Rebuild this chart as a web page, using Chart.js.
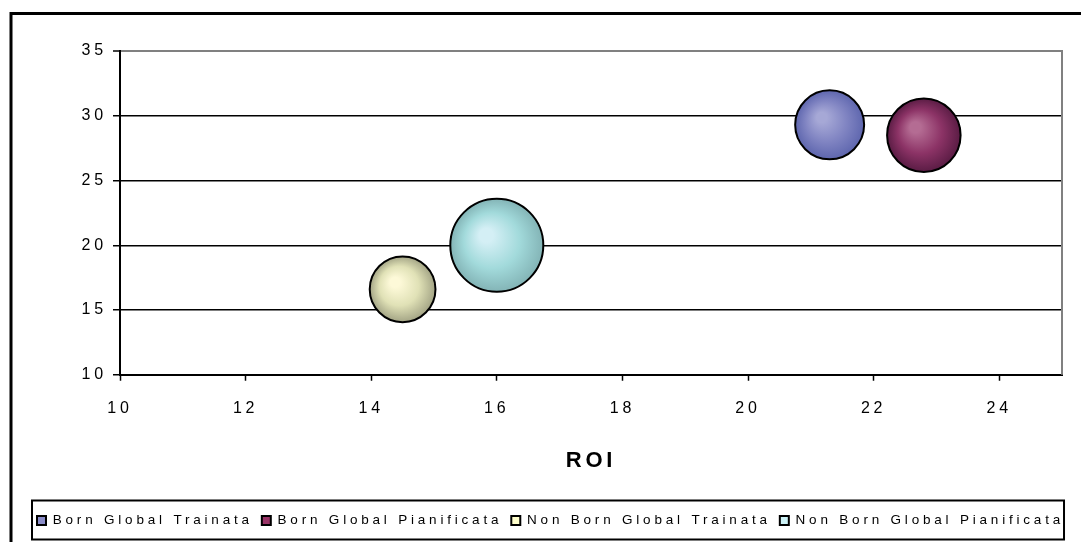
<!DOCTYPE html>
<html>
<head>
<meta charset="utf-8">
<script src="https://cdn.jsdelivr.net/npm/chart.js@4"></script>
<style>
  html, body { margin: 0; padding: 0; background: #fff; }
</style>
</head>
<body>
<canvas id="bubbleChart" width="1081" height="542"></canvas>
<script>
// data
const seriesNames = ['Born Global Trainata', 'Born Global Pianificata', 'Non Born Global Trainata', 'Non Born Global Pianificata'];
const roiValues = [21.3, 22.8, 14.5, 16.0];
const yValues = [29.3, 28.5, 16.6, 20.0];
const bubbleSizes = [11, 12.5, 10, 20];
const xRange = [10, 25, 2];   // min, max, step
const yRange = [10, 35, 5];

// flat colour for the legend, then highlight / mid / edge for the shaded ball
const legendColors = ['#8a8cc8', '#993366', '#ffffcc', '#ccf2f6'];
const ballColors = [
    ['#a6a8d6', '#8084c2', '#5e66ae'],
    ['#b46c93', '#8c3366', '#5a1c44'],
    ['#fdf9d8', '#e0e1b6', '#a3a485'],
    ['#d4eff5', '#a2dadb', '#83b4b6']
];

const maxRadius = 46.5;
const maxSize = Math.max(...bubbleSizes);

function shaded(i) {
    return (c) => {
        const cols = ballColors[i];
        if (c.type !== 'data' || !c.chart.scales.x || !c.raw) return cols[1];
        const raw = c.raw;
        const cx = c.chart.scales.x.getPixelForValue(raw.x);
        const cy = c.chart.scales.y.getPixelForValue(raw.y);
        const r = raw.r;
        if (!isFinite(cx) || !isFinite(cy) || !isFinite(r)) return cols[1];
        const g = c.chart.ctx.createRadialGradient(cx - r * 0.27, cy - r * 0.25, 0, cx, cy, r);
        g.addColorStop(0, cols[0]);
        g.addColorStop(0.15, cols[0]);
        g.addColorStop(0.6, cols[1]);
        g.addColorStop(1, cols[2]);
        return g;
    };
}

const datasets = seriesNames.map((name, i) => ({
    label: name,
    data: [{x: roiValues[i], y: yValues[i], r: maxRadius * Math.sqrt(bubbleSizes[i] / maxSize)}],
    backgroundColor: shaded(i),
    borderColor: '#000',
    borderWidth: 2,
    hoverRadius: 0
}));

const LETTER = '3.8px';

const decor = {
    id: 'decor',
    beforeLayout(chart) { chart.ctx.letterSpacing = LETTER; },
    beforeDraw(chart) {
        const ctx = chart.ctx;
        ctx.letterSpacing = LETTER;
        ctx.save();
        ctx.strokeStyle = '#000';
        ctx.lineWidth = 3;
        ctx.strokeRect(11, 13.5, 1200, 800);
        ctx.restore();
    },
    beforeDatasetsDraw(chart) {
        const {ctx, chartArea} = chart;
        ctx.save();
        ctx.strokeStyle = '#808080';
        ctx.lineWidth = 2;
        ctx.beginPath();
        ctx.moveTo(chartArea.right, chartArea.top - 1);
        ctx.lineTo(chartArea.right, chartArea.bottom);
        ctx.stroke();
        ctx.restore();
    },
    afterDraw(chart) {
        const lg = chart.legend;
        if (!lg || !lg.legendHitBoxes.length) return;
        const boxes = lg.legendHitBoxes;
        const left = Math.min(...boxes.map(b => b.left)) - 5;
        const right = Math.max(...boxes.map(b => b.left + b.width));
        const mid = boxes[0].top + boxes[0].height / 2;
        const ctx = chart.ctx;
        ctx.save();
        ctx.strokeStyle = '#000';
        ctx.lineWidth = 2;
        ctx.strokeRect(left, mid - 20, right - left, 39);
        ctx.restore();
    }
};

Chart.defaults.font.family = '"Liberation Sans", Arial, sans-serif';
Chart.defaults.color = '#000';

const ctx = document.getElementById('bubbleChart').getContext('2d');
const chart = new Chart(ctx, {
    type: 'bubble',
    data: { datasets: datasets },
    plugins: [decor],
    options: {
        responsive: false,
        animation: false,
        layout: { autoPadding: false, padding: { left: 28, right: 0, top: 51, bottom: 4.75 } },
        scales: {
            x: {
                min: xRange[0],
                max: xRange[1],
                ticks: { stepSize: xRange[2], includeBounds: false, padding: 18, font: { size: 16 } },
                grid: { drawOnChartArea: false, drawTicks: true, tickLength: 6, tickColor: '#000', tickWidth: 1.5 },
                border: { color: '#000', width: 2 },
                title: { display: true, text: 'ROI', font: { size: 22, weight: 'bold' }, padding: { top: 0, bottom: 31 } },
                afterFit: s => { s.height = 130; s.paddingLeft = 0; s.paddingRight = 19; }
            },
            y: {
                min: yRange[0],
                max: yRange[1],
                ticks: { stepSize: yRange[2], padding: 6, font: { size: 16 } },
                grid: {
                    color: c => c.tick && c.tick.value === yRange[1] ? '#808080' : '#000',
                    lineWidth: c => c.tick && c.tick.value === yRange[1] ? 2 : 1.5,
                    tickLength: 7,
                    tickColor: '#000',
                    tickWidth: 1.5
                },
                border: { color: '#000', width: 2 },
                afterFit: s => { s.width = 92; s.paddingTop = 0; s.paddingBottom = 0; }
            }
        },
        plugins: {
            tooltip: { enabled: false },
            legend: {
                position: 'bottom',
                align: 'start',
                labels: {
                    boxWidth: 9,
                    boxHeight: 9,
                    padding: 9,
                    useBorderRadius: true,
                    borderRadius: 2,
                    font: { size: 13.5 },
                    generateLabels: ch => ch.data.datasets.map((d, i) => ({
                        text: d.label,
                        fillStyle: legendColors[i],
                        strokeStyle: '#000',
                        lineWidth: 2,
                        hidden: false,
                        datasetIndex: i
                    }))
                }
            }
        }
    }
});
</script>
</body>
</html>
